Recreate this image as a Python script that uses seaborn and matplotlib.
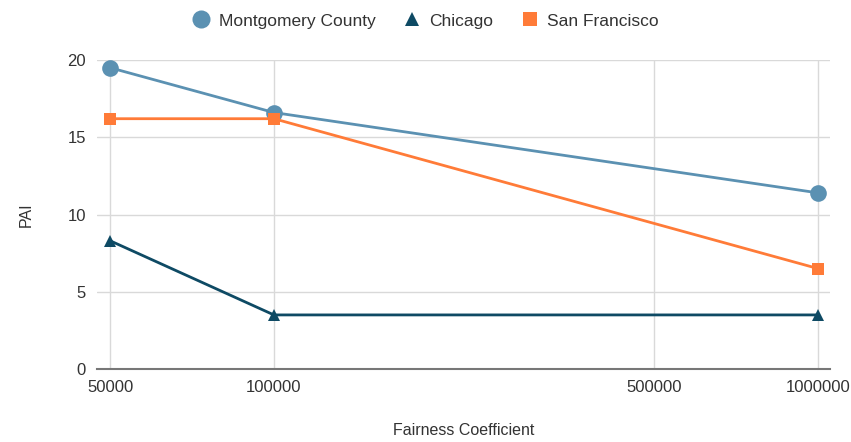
import matplotlib
matplotlib.use("Agg")
import matplotlib.pyplot as plt
import seaborn as sns
import pandas as pd
from matplotlib.ticker import FixedLocator, NullLocator, FixedFormatter
from matplotlib.lines import Line2D

x_values = [50000, 100000, 1000000]
montgomery = [19.5, 16.6, 11.4]
chicago = [8.3, 3.5, 3.5]
san_francisco = [16.2, 16.2, 6.5]
series_names = ["Montgomery County", "Chicago", "San Francisco"]
x_ticks = [50000, 100000, 500000, 1000000]
y_ticks = [0, 5, 10, 15, 20]

rows = []
for name, vals in zip(series_names, [montgomery, chicago, san_francisco]):
    for x, v in zip(x_values, vals):
        rows.append({"x": x, "PAI": v, "series": name})
df = pd.DataFrame(rows)

sns.set_theme(style="white")
plt.rcParams['font.family'] = ['Liberation Sans', 'DejaVu Sans']

palette = {"Montgomery County": "#5b91b2", "Chicago": "#0e4a64", "San Francisco": "#ff7b38"}
markers = {"Montgomery County": "o", "Chicago": "^", "San Francisco": "s"}
sizes = {"Montgomery County": 12, "Chicago": 9, "San Francisco": 9}

fig = plt.figure(figsize=(8.51, 4.42), dpi=100)
ax = fig.add_axes([97/851, (442-369)/442, (830-97)/851, (369-60)/442])

for name in series_names:
    sub = df[df["series"] == name]
    sns.lineplot(data=sub, x="x", y="PAI", ax=ax, color=palette[name], marker=markers[name],
                 markersize=sizes[name], markeredgewidth=0, linewidth=2, label=name,
                 clip_on=False, zorder=3)

ax.set_xscale("log")
ax.set_xlim(47300, 1.052e6)
ax.set_ylim(0, 20)
ax.xaxis.set_major_locator(FixedLocator(x_ticks))
ax.xaxis.set_major_formatter(FixedFormatter([str(t) for t in x_ticks]))
ax.xaxis.set_minor_locator(NullLocator())
ax.set_yticks(y_ticks)
ax.set_yticklabels([str(t) for t in y_ticks])
ax.grid(True, color="#d9d9d9", linewidth=1)
ax.set_axisbelow(True)
for s in ["left", "right", "top"]:
    ax.spines[s].set_visible(False)
ax.spines["bottom"].set_color("#777777")
ax.spines["bottom"].set_linewidth(1.5)
ax.tick_params(axis="both", length=0, labelsize=12, colors="#333333", pad=8)
ax.set_xlabel("Fairness Coefficient", fontsize=11.5, color="#333333", labelpad=20)
ax.set_ylabel("PAI", fontsize=11.5, color="#333333", labelpad=24)

if ax.get_legend():
    ax.get_legend().remove()
leg_handles = [Line2D([], [], linestyle="none", marker=markers[n], color=palette[n],
                      markersize=(13 if n == "Montgomery County" else 10), markeredgewidth=0)
               for n in series_names]
fig.legend(leg_handles, series_names, loc="center", bbox_to_anchor=(0.5, 1 - 21/442),
           ncol=3, frameon=False, fontsize=12.5, handlelength=1.0, handletextpad=0.5,
           columnspacing=1.6, labelcolor="#333333")

fig.savefig("out.png", dpi=100)
